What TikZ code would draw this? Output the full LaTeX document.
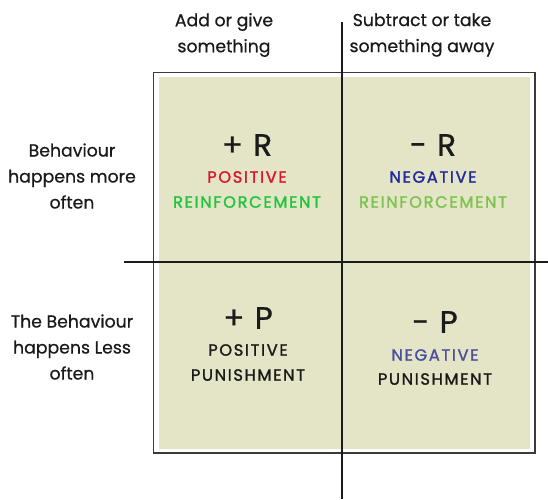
\documentclass[tikz,border=0pt]{standalone}
\usepackage{fontspec}
\setmainfont{Poppins}
\newfontfamily\headfont[FakeBold=0.6]{Poppins}
\newfontfamily\capfont[FakeBold=1.4, LetterSpace=10]{Poppins}
\newfontfamily\symfont[FakeBold=0.8]{Poppins}
\definecolor{panel}{HTML}{E4E4C6}
\definecolor{frame}{HTML}{3A3A3A}
\definecolor{posred}{HTML}{D9152B}
\definecolor{posgreen}{HTML}{1EC43A}
\definecolor{negblue}{HTML}{1E2A9E}
\definecolor{neggreen}{HTML}{7CC24E}
\definecolor{negblue2}{HTML}{4B4F9E}
\definecolor{ink}{HTML}{1A1A1A}
\tikzset{
  axislabel/.style={align=center, text=ink, font=\headfont\fontsize{17.3}{26}\selectfont, inner sep=0pt},
  bigsym/.style={text=ink, font=\symfont\fontsize{31}{34}\selectfont, inner sep=0pt},
  caplabel/.style={font=\capfont\fontsize{16.3}{18}\selectfont, inner sep=0pt},
  axis/.style={draw=ink, line width=1.2pt},
}
\begin{document}
\begin{tikzpicture}[x=1pt,y=-1pt]
\useasboundingbox (0,0) rectangle (548,499);
% quadrant grid background and frame
\fill[panel] (159,77) rectangle (530,449);
\draw[frame, line width=1.4pt] (153.5,72.5) rectangle (535,453);
% axes
\coordinate (vtop) at (342,22);
\coordinate (vbot) at (342,499);
\coordinate (hleft) at (124,262);
\coordinate (hright) at (548,262);
\draw[axis] (vtop) -- (vbot);
\draw[axis] (hleft) -- (hright);
% column headings
\node[axislabel] (colA) at (224,35) {Add or give\\something};
\node[axislabel] (colB) at (422,35) {Subtract or take\\something away};
% row headings
\node[axislabel] (rowA) at (72,176) {Behaviour\\happens more\\often};
\node[axislabel] (rowB) at (72,347) {The Behaviour\\happens Less\\often};
% top-left quadrant
\node[bigsym] (pr) at (247,145) {+\,\,R};
\node[caplabel, text=posred] (prA) at (247,177) {POSITIVE};
\node[caplabel, text=posgreen] (prB) at (247,202) {REINFORCEMENT};
% top-right quadrant
\node[bigsym] (nr) at (433,145) {-\,\,R};
\node[caplabel, text=negblue] (nrA) at (433,177) {NEGATIVE};
\node[caplabel, text=neggreen] (nrB) at (433,202) {REINFORCEMENT};
% bottom-left quadrant
\node[bigsym] (pp) at (248,318) {+\,\,P};
\node[caplabel, text=ink] (ppA) at (248,350) {POSITIVE};
\node[caplabel, text=ink] (ppB) at (248,375) {PUNISHMENT};
% bottom-right quadrant
\node[bigsym] (np) at (435,322) {-\,\,P};
\node[caplabel, text=negblue2] (npA) at (435,355) {NEGATIVE};
\node[caplabel, text=ink] (npB) at (435,379) {PUNISHMENT};
\end{tikzpicture}
\end{document}
